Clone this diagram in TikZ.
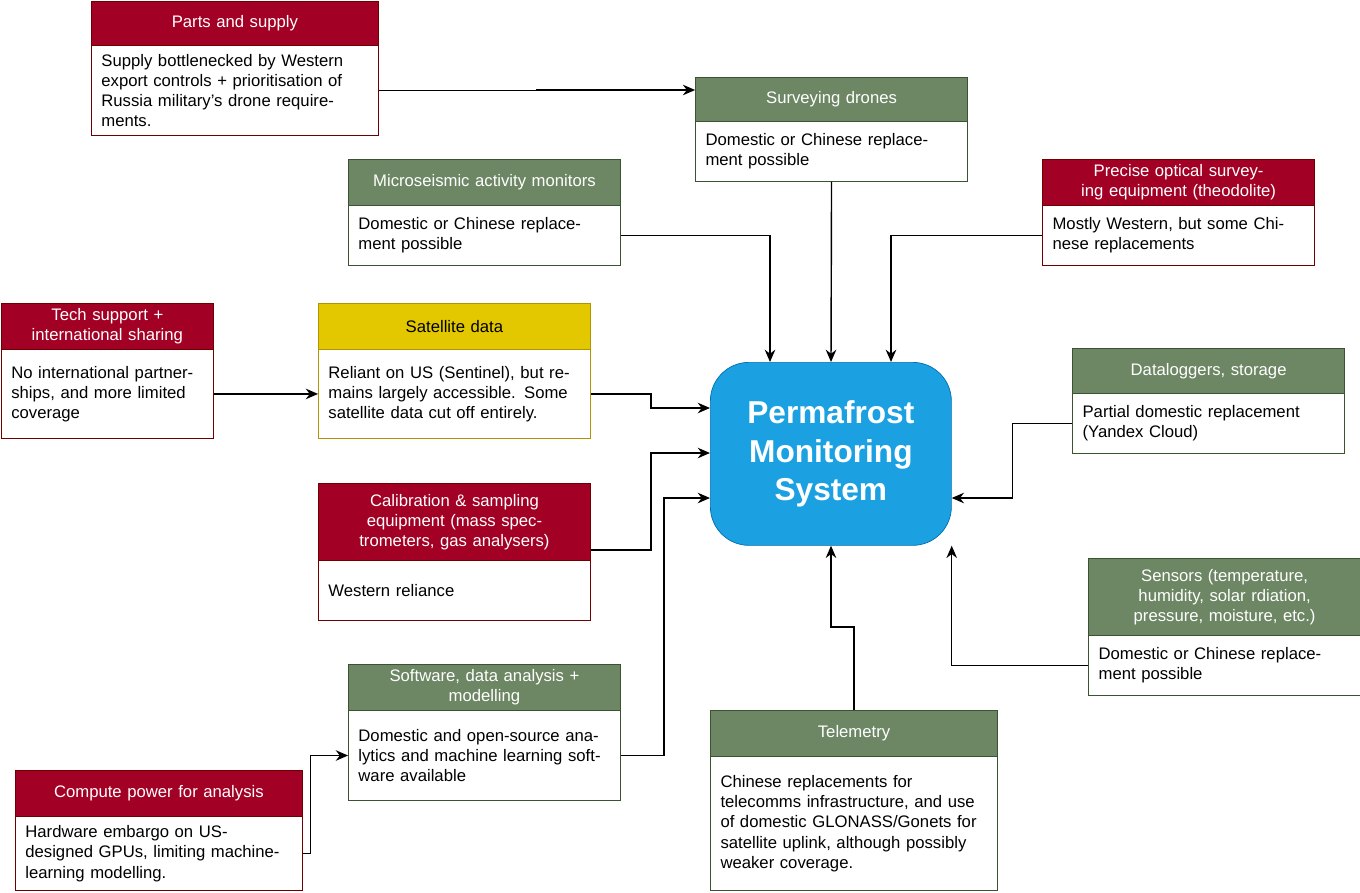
\documentclass[tikz,border=0pt]{standalone}
\usepackage{fontspec}
\setmainfont{Liberation Sans}
\usetikzlibrary{arrows.meta}
\definecolor{rh}{HTML}{A20025}\definecolor{rb}{HTML}{6F0000}
\definecolor{gh}{HTML}{6D8764}\definecolor{gb}{HTML}{3A5431}
\definecolor{yh}{HTML}{E3C800}\definecolor{yb}{HTML}{B09500}
\definecolor{ch}{HTML}{1BA1E2}\definecolor{cb}{HTML}{006EAF}
\tikzset{
 hdr/.style={anchor=north west, inner sep=0pt, align=center, text=white, font=\fontsize{9.5}{11.5}\selectfont},
 bdy/.style={fill=white, anchor=north west, inner sep=0pt, align=left, font=\fontsize{9.5}{11.5}\selectfont},
 conn/.style={draw=black, line width=0.8pt, -{Stealth[length=7pt,width=6pt]}}
}
% name x y0 y1 w fill border title
\newcommand\hd[8]{%
 \node[hdr, draw=#7, fill=#6, minimum width={#5*0.02cm}, minimum height={(#4-#3)*0.02cm}, text width={(#5-14)*0.02cm}] (#1-h) at ({#2*0.02},{-#3*0.02}) {#8};
}
% name x y1 y2 w border body
\newcommand\bd[7]{%
 \node[bdy, draw=#6, minimum width={#5*0.02cm}, minimum height={(#4-#3)*0.02cm}, text width={(#5-20)*0.02cm}] (#1-b) at ({#2*0.02},{-#3*0.02}) {#7};
}
\begin{document}
\begin{tikzpicture}
\useasboundingbox (0,0) rectangle (27.2,-17.84);
\hd{parts}{91}{1}{45}{287}{rh}{rb}{Parts and supply}
\bd{parts}{91}{45}{135}{287}{rb}{Supply bottlenecked by Western export controls + prioritisation of Russia military's drone requirements.}
\hd{drones}{695}{77}{121}{272}{gh}{gb}{Surveying drones}
\bd{drones}{695}{121}{181}{272}{gb}{Domestic or Chinese replacement possible}
\hd{micro}{348}{159}{205}{272}{gh}{gb}{Microseismic activity monitors}
\bd{micro}{348}{205}{265}{272}{gb}{Domestic or Chinese replacement possible}
\hd{optic}{1042}{159}{205}{272}{rh}{rb}{Precise optical surveying equipment (theodolite)}
\bd{optic}{1042}{205}{265}{272}{rb}{Mostly Western, but some Chinese replacements}
\hd{tech}{1}{303}{349}{212}{rh}{rb}{Tech support +\\international sharing}
\bd{tech}{1}{349}{438}{212}{rb}{No international partnerships, and more limited coverage}
\hd{sat}{318}{303}{349}{272}{yh}{yb}{\textcolor{black}{Satellite data}}
\bd{sat}{318}{349}{438}{272}{yb}{Reliant on US (Sentinel), but remains largely accessible. Some satellite data cut off entirely.}
\hd{logs}{1072}{348}{393}{272}{gh}{gb}{Dataloggers, storage}
\bd{logs}{1072}{393}{453}{272}{gb}{Partial domestic replacement (Yandex Cloud)}
\hd{cal}{318}{483}{560}{272}{rh}{rb}{Calibration \& sampling equipment (mass spectrometers, gas analysers)}
\bd{cal}{318}{560}{620}{272}{rb}{Western reliance}
\hd{sens}{1088}{558}{635}{272}{gh}{gb}{Sensors (temperature, humidity, solar rdiation, pressure, moisture, etc.)}
\bd{sens}{1088}{635}{695}{272}{gb}{Domestic or Chinese replacement possible}
\hd{soft}{348}{664}{710}{272}{gh}{gb}{Software, data analysis +\\modelling}
\bd{soft}{348}{710}{800}{272}{gb}{Domestic and open-source analytics and machine learning software available}
\hd{tele}{710}{710}{756}{287}{gh}{gb}{Telemetry}
\bd{tele}{710}{756}{890}{287}{gb}{Chinese replacements for telecomms infrastructure, and use of domestic GLONASS/Gonets for satellite uplink, although possibly weaker coverage.}
\hd{comp}{15}{770}{816}{287}{rh}{rb}{Compute power for analysis}
\bd{comp}{15}{816}{890}{287}{rb}{Hardware embargo on US-designed GPUs, limiting machine-learning modelling.}
\node[draw=cb, fill=ch, rounded corners=22pt, anchor=north west, minimum width=4.82cm, minimum height=3.66cm, align=center, text=white, font=\fontsize{18}{22}\selectfont\bfseries] (pms) at (14.2,-7.24) {Permafrost\\Monitoring\\System};
\path (pms.north west) ++(1.2,0) coordinate (t1) ++(1.22,0) coordinate (t2) ++(1.2,0) coordinate (t3);
\path (pms.north west) ++(0,-0.92) coordinate (l1) ++(0,-0.9) coordinate (l2) ++(0,-0.9) coordinate (l3);
\path (pms.south west) ++(2.42,0) coordinate (b1);
\path (pms.south east) coordinate (b2);
\path (pms.north east) ++(0,-2.72) coordinate (r1);
\coordinate (k1) at (10.74,-1.8);
\draw[conn] (parts-b.east) -| (k1) -- (k1 -| drones-h.west);
\draw[conn] (drones-b.south) -- (t2);
\draw[conn] (micro-b.east) -| (t1);
\draw[conn] (optic-b.west) -| (t3);
\draw[conn] (tech-b.east) -- (sat-b.west);
\draw[conn] (sat-b.east) -- ++(1.2,0) |- (l1);
\draw[conn] (cal-h.south east |- 0,-11) -- ++(1.2,0) |- (l2);
\draw[conn] (soft-b.east) -- ++(0.86,0) |- (l3);
\draw[conn] (comp-b.east) -- ++(0.16,0) |- (soft-b.west);
\draw[conn] (logs-b.west) -- ++(-1.2,0) |- (r1);
\draw[conn] (sens-b.west) -| (b2);
\draw[conn] (tele-h.north) -- ++(0,1.66) -| (b1);
\end{tikzpicture}
\end{document}
